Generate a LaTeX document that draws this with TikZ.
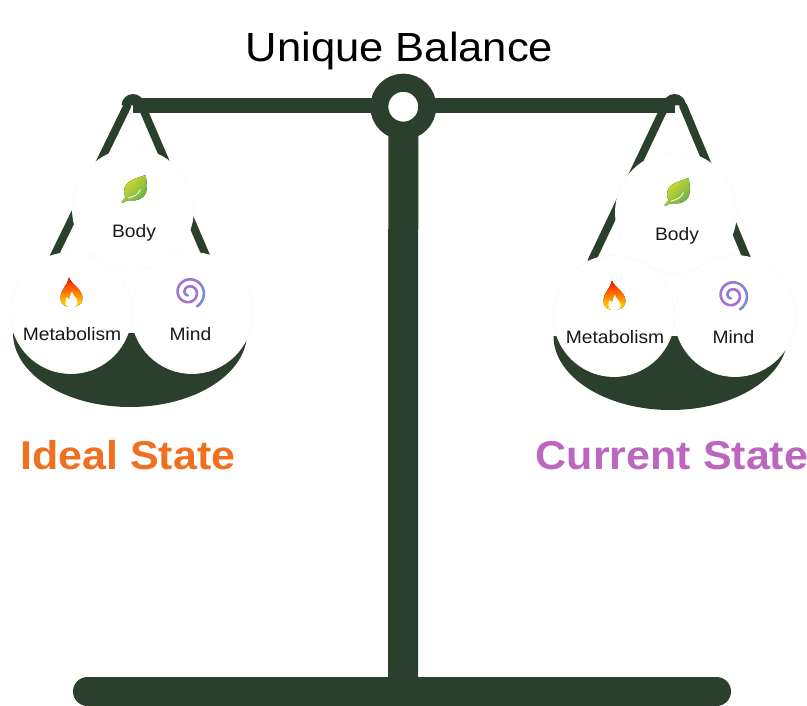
\documentclass[tikz,border=0pt]{standalone}
\usepackage{fontspec}
\setmainfont[FakeStretch=1.07]{Liberation Sans}
\usetikzlibrary{positioning}

\definecolor{scalegreen}{HTML}{2A3F2C}
\definecolor{idealorange}{HTML}{F0701F}
\definecolor{currentpurple}{HTML}{BC66C0}
\definecolor{spiralblue}{HTML}{6F8FE0}
\definecolor{spiralpurple}{HTML}{A76FCF}
\definecolor{leaftop}{HTML}{62B04A}
\definecolor{leafmid}{HTML}{A5CF3A}
\definecolor{leafbottom}{HTML}{DDDD2C}

\tikzset{
  beam/.style={draw=scalegreen,line width=14.5pt},
  rope/.style={draw=scalegreen,line width=8pt,line cap=round},
  post/.style={draw=scalegreen,line width=30pt},
  basebar/.style={draw=scalegreen,line width=29pt,line cap=round},
  pan/.style={fill=scalegreen},
  pivotring/.style={circle,draw=scalegreen,fill=white,line width=18pt,minimum size=48pt,inner sep=0pt,outer sep=0pt},
  weight/.style={circle,draw=black!2,fill=white,line width=.8pt,minimum size=121pt,inner sep=0pt,outer sep=0pt},
  itemtext/.style={anchor=base,text=black!90,font=\fontsize{18}{20}\selectfont},
  statetext/.style={anchor=base,font=\fontsize{40.2}{44}\selectfont\bfseries},
  hookcap/.pic={\fill[scalegreen] (-11.5,0) arc[start angle=180,end angle=0,radius=11.5] -- cycle;},
  leafmark/.pic={
    \fill[left color=leafbottom,middle color=leafmid,right color=leaftop,shading angle=45]
      (12.7,34.5) .. controls (3,31) and (-9,29) .. (-9,18)
      .. controls (-9,15) and (-8,13) .. (-7,12.5) -- (-11.5,7.5) -- (-10.5,6.3)
      .. controls (-6,10) and (-3,9) .. (0,9)
      .. controls (8,9) and (14,15) .. (13.5,19.5)
      .. controls (14,25) .. cycle;
    \draw[white,line width=.8pt] (-5,11.5) .. controls (2,13) and (5,15) .. (7.5,20);
  },
  flamemark/.pic={
    \fill[top color=red!90!orange,middle color=orange,bottom color=yellow!80!orange]
      (-2,35.5) .. controls (-1,30) and (11.5,24) .. (11.5,15)
      .. controls (11.5,10) and (8,7) .. (4,6.5) -- (-4,6.5)
      .. controls (-8,7) and (-10.5,11) .. (-10.5,15)
      .. controls (-10.5,24) and (-3,28) .. cycle;
    \fill[white] (1,21.5) .. controls (1,18) and (6.5,15) .. (6.5,11)
      .. controls (6.5,8) and (4.5,6) .. (3,6) -- (-2,6)
      .. controls (-4,6) and (-5.5,8) .. (-5.5,11)
      .. controls (-5.5,13) and (-5,15) .. (-4.5,16)
      .. controls (-3.5,14.5) and (-2.5,14) .. (-1.5,14)
      .. controls (-1,17) and (0,20) .. cycle;
  },
  spiralmark/.pic={
    \foreach \from/\to/\tint in {610/540/30,540/440/70,440/340/100,340/220/100,220/100/85,100/20/60,20/-60/20}
      \draw[draw=spiralpurple!\tint!spiralblue,line width=2.6pt,line cap=round]
        plot[domain=\from:\to,samples=14,smooth,variable=\t]
        ({-3+(16-0.0194*(\t+60))*cos(\t)},{20.5+(16-0.0194*(\t+60))*sin(\t)});
  },
}

\begin{document}
\begin{tikzpicture}[x=1pt,y=1pt]
  \useasboundingbox (0,0) rectangle (807,-706);

  \coordinate (hookL) at (133,-105.5);
  \coordinate (hookR) at (674.5,-105.5);
  \coordinate (baseL) at (87.5,-691.5);
  \coordinate (baseR) at (716.5,-691.5);
  \coordinate (baseM) at (403,-691.5);
  \coordinate (ropeLa) at (53,-258);
  \coordinate (ropeLb) at (207,-258);
  \coordinate (ropeRa) at (591.5,-261);
  \coordinate (ropeRb) at (748,-261);

  \node[font=\fontsize{40.7}{44}\selectfont,anchor=base] (title) at (399.5,-62) {Unique Balance};

  % beam and post
  \draw[beam] (hookL) -- (hookR);
  \node[pivotring] (pivot) at (403.3,-106.7) {};
  \draw[post] (pivot.south) -- (baseM);
  \draw[basebar] (baseL) -- (baseR);

  % left pan
  \pic at (hookL) {hookcap};
  \draw[rope] ([xshift=-5.5pt]hookL) -- (ropeLa);
  \draw[rope] ([xshift=8.5pt]hookL) -- (ropeLb);
  \fill[pan] (13,-333) arc[start angle=180,end angle=360,x radius=117,y radius=74] -- cycle;
  \node[weight] (bodyL) at (133,-209.5) {};
  \node[weight] (metabL) at (71,-313) {};
  \node[weight] (mindL) [right=0pt of metabL] {};
  \pic at (bodyL.center) {leafmark};
  \pic at (metabL.center) {flamemark};
  \pic at (mindL.center) {spiralmark};
  \node[itemtext] (bodyLtext) at ([xshift=1pt,yshift=-28pt]bodyL.center) {Body};
  \node[itemtext] (metabLtext) at ([xshift=1pt,yshift=-27pt]metabL.center) {Metabolism};
  \node[itemtext] (mindLtext) at ([xshift=-1.5pt,yshift=-27pt]mindL.center) {Mind};

  % right pan
  \pic at (hookR) {hookcap};
  \draw[rope] ([xshift=-9pt]hookR) -- (ropeRa);
  \draw[rope] ([xshift=8.5pt]hookR) -- (ropeRb);
  \fill[pan] (553.5,-336) arc[start angle=180,end angle=360,x radius=117,y radius=74] -- cycle;
  \node[weight] (bodyR) at (676,-212.5) {};
  \node[weight] (metabR) at (614,-316) {};
  \node[weight] (mindR) [right=0pt of metabR] {};
  \pic at (bodyR.center) {leafmark};
  \pic at (metabR.center) {flamemark};
  \pic at (mindR.center) {spiralmark};
  \node[itemtext] (bodyRtext) at ([xshift=1pt,yshift=-28pt]bodyR.center) {Body};
  \node[itemtext] (metabRtext) at ([xshift=1pt,yshift=-27pt]metabR.center) {Metabolism};
  \node[itemtext] (mindRtext) at ([xshift=-1.5pt,yshift=-27pt]mindR.center) {Mind};

  \node[statetext,text=idealorange] (ideal) at (127.8,-469.5) {Ideal State};
  \node[statetext,text=currentpurple] (current) at (672,-469.5) {Current State};
\end{tikzpicture}
\end{document}
